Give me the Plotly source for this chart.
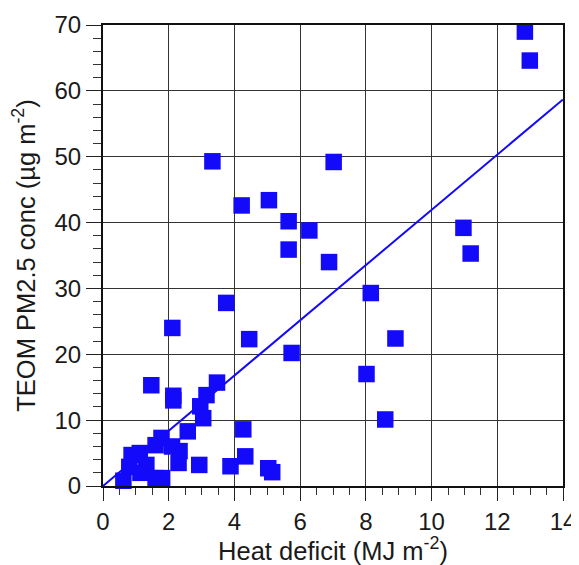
import plotly.graph_objects as go

heat_deficit = [12.84, 12.99, 3.33, 7.02, 4.22, 5.05, 5.65, 6.28, 5.65, 6.88,
                3.75, 8.15, 4.45, 5.74, 10.97, 11.19, 8.90, 8.02, 8.59, 2.11,
                1.47, 3.47, 2.14, 2.14, 3.15, 2.96, 3.05, 2.58, 4.27, 4.33,
                3.88, 2.93, 5.03, 5.15, 2.33, 2.30, 1.78, 1.60, 1.12, 0.87,
                0.80, 1.32, 1.14, 1.60, 1.80, 0.62, 2.10]
pm25 = [69.0, 64.6, 49.3, 49.2, 42.6, 43.4, 40.2, 38.8, 35.9, 34.0,
        27.8, 29.3, 22.3, 20.2, 39.2, 35.3, 22.4, 17.0, 10.1, 24.0,
        15.3, 15.7, 13.7, 13.0, 13.8, 12.1, 10.3, 8.3, 8.6, 4.5,
        3.0, 3.2, 2.7, 2.1, 5.3, 3.5, 7.3, 6.2, 5.0, 4.7,
        2.9, 3.2, 2.0, 1.2, 1.2, 0.8, 6.0]

fit_x = [0, 14]
fit_y = [0, 58.7]

x_ticks = [0, 2, 4, 6, 8, 10, 12, 14]
y_ticks = [0, 10, 20, 30, 40, 50, 60, 70]

BLUE = "rgb(20,10,250)"

fig = go.Figure()
fig.add_trace(go.Scatter(x=heat_deficit, y=pm25, mode="markers",
                         marker=dict(symbol="square", size=16.5, color=BLUE,
                                     line=dict(width=0)),
                         cliponaxis=False, showlegend=False))
fig.add_trace(go.Scatter(x=fit_x, y=fit_y, mode="lines",
                         line=dict(color=BLUE, width=2),
                         cliponaxis=True, showlegend=False))

font = dict(family="Liberation Sans, Arial, sans-serif", size=24, color="#1a1a1a")

# the page body adds an 8px offset, so the figure is sized to the window minus that
fig.update_layout(
    width=571, height=557,
    margin=dict(l=94.5, r=15.5, t=17, b=79),
    paper_bgcolor="white", plot_bgcolor="white",
    font=font,
    xaxis=dict(range=[0, 14], tickvals=x_ticks, ticks="outside", ticklen=13,
               tickwidth=1.3, tickcolor="#222", automargin=False,
               showline=True, linecolor="#111", linewidth=2, mirror=True,
               showgrid=True, gridcolor="#333", gridwidth=1.3, zeroline=False,
               minor=dict(tickmode="linear", tick0=0, dtick=0.5, ticks="outside",
                          ticklen=7, tickwidth=1, tickcolor="#333",
                          showgrid=False),
               title=dict(text="Heat deficit (MJ m<sup>-2</sup>)", standoff=6,
                          font=dict(size=25.5))),
    yaxis=dict(range=[0, 70], tickvals=y_ticks, ticks="outside", ticklen=15,
               tickwidth=1.3, tickcolor="#222", automargin=False,
               showline=True, linecolor="#111", linewidth=2, mirror=True,
               showgrid=True, gridcolor="#333", gridwidth=1.3, zeroline=False,
               minor=dict(tickmode="linear", tick0=0, dtick=2, ticks="outside",
                          ticklen=8, tickwidth=1, tickcolor="#333",
                          showgrid=False),
               title=dict(text="TEOM PM2.5 conc (µg m<sup>-2</sup>)", standoff=18,
                          font=dict(size=25.5))),
)

fig.write_html("out.html")
